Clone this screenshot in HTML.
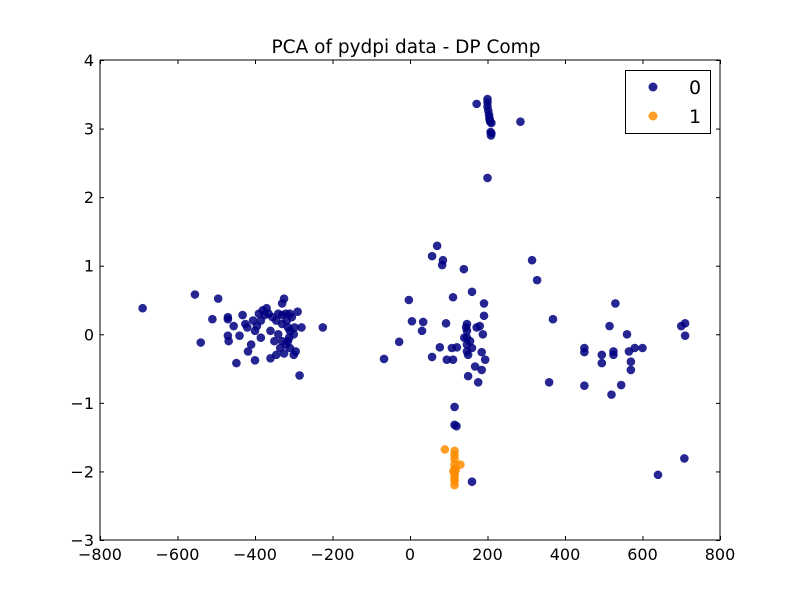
<!DOCTYPE html>
<html><head><meta charset="utf-8"><style>body{margin:0;background:#fff}svg{display:block;font-family:"DejaVu Sans","Liberation Sans",sans-serif}</style></head>
<body>
<svg id="chart" width="800" height="600" viewBox="0 0 800 600">
<rect width="800" height="600" fill="#fff"/>
<text x="406" y="53" text-anchor="middle" font-size="18.5">PCA of pydpi data - DP Comp</text>
<g id="ticks"></g>
<g id="points"></g>
<rect x="100" y="60" width="620" height="480" fill="none" stroke="#000" stroke-width="1"/>
<g>
<rect x="625.5" y="70.5" width="85" height="63" fill="#fff" stroke="#000"/>
<circle cx="653" cy="87" r="4.5" fill="#000080" fill-opacity="0.85"/>
<text x="689" y="94" font-size="19">0</text>
<circle cx="653" cy="116" r="4.5" fill="#ff8c00" fill-opacity="0.85"/>
<text x="689" y="123" font-size="19">1</text>
</g>
</svg>
<script>
const xTicks=[-800,-600,-400,-200,0,200,400,600,800];
const yTicks=[-3,-2,-1,0,1,2,3,4];
const class0X=[-690,-555,-540,-510,-495,-470,-470,-470,-468,-455,-448,-440,-432,-425,-420,-418,-410,-405,-400,-400,-395,-390,-385,-380,-370,-365,-360,-360,-355,-350,-345,-340,-335,-330,-325,-320,-318,-315,-312,-320,-310,-305,-300,-300,-298,-295,-290,-285,-280,-225,-340,-330,-330,-325,-315,-345,-375,-385,-310,-330,-310,
70,57,85,83,139,315,328,160,111,191,-3,191,369,5,34,31,93,-28,-67,57,77,108,121,95,111,147,147,147,147,147,150,145,172,188,185,194,168,185,150,176,359,140,155,160,180,
200,200,200,202,204,205,206,207,208,209,210,210,172,285,200,
115,115,120,160,
450,450,450,495,495,515,520,525,525,530,545,560,565,570,570,580,600,640,700,710,710,708];
const class0Y=[0.38,0.58,-0.12,0.22,0.52,0.22,0.25,-0.02,-0.1,0.12,-0.42,-0.02,0.28,0.15,0.1,-0.25,-0.15,0.2,0.05,-0.38,0.12,0.3,-0.05,0.35,0.38,0.3,0.05,-0.35,0.25,-0.1,-0.3,0.3,-0.2,0.45,0.52,0.3,0.2,0.1,-0.05,-0.15,-0.2,0.25,-0.3,0,0.1,-0.25,0.33,-0.6,0.1,0.1,0,0.15,-0.1,-0.28,-0.1,0.2,0.28,0.2,0.05,0.28,0.3,
1.29,1.14,1.08,1.01,0.95,1.08,0.79,0.62,0.54,0.45,0.5,0.27,0.22,0.19,0.18,0.05,0.16,-0.11,-0.36,-0.33,-0.19,-0.2,-0.19,-0.37,-0.37,0.15,0.05,-0.05,-0.15,-0.25,-0.3,0.1,0.1,0,-0.26,-0.37,-0.47,-0.52,-0.61,-0.7,-0.7,-0.05,-0.1,-0.2,0.12,
3.43,3.38,3.32,3.26,3.2,3.15,3.12,3.1,2.95,2.9,2.93,3.08,3.36,3.1,2.28,
-1.06,-1.32,-1.34,-2.15,
-0.2,-0.26,-0.75,-0.3,-0.42,0.12,-0.88,-0.25,-0.3,0.45,-0.74,0,-0.25,-0.4,-0.52,-0.2,-0.2,-2.05,0.12,0.16,-0.02,-1.81];
const class1X=[90,115,115,115,115,115,115,115,115,115,115,118,112,130];
const class1Y=[-1.68,-1.7,-1.76,-1.82,-1.9,-1.96,-2.02,-2.06,-2.1,-2.14,-2.2,-1.98,-2.0,-1.9];
const NS='http://www.w3.org/2000/svg';
function sx(v){return 100+(v+800)/1600*620;}
function sy(v){return 540-(v+3)/7*480;}
const tg=document.getElementById('ticks');
xTicks.forEach(t=>{
  const x=sx(t)+0.5;
  [[540,536],[60,64]].forEach(p=>{const l=document.createElementNS(NS,'line');
  
  
  l.setAttribute('x1',x);l.setAttribute('x2',x);l.setAttribute('y1',p[0]);l.setAttribute('y2',p[1]);l.setAttribute('stroke','#000');tg.appendChild(l);});
  const tx=document.createElementNS(NS,'text');
  
  
  tx.setAttribute('x',sx(t));tx.setAttribute('y',560);tx.setAttribute('text-anchor','middle');tx.setAttribute('font-size','16');
  tx.textContent=(t<0?'\u2212'+(-t):t);tg.appendChild(tx);
});
yTicks.forEach(t=>{
  const y=sy(t)+0.5;
  [[100,104],[720,716]].forEach(p=>{const l=document.createElementNS(NS,'line');
  
  
  l.setAttribute('x1',p[0]);l.setAttribute('x2',p[1]);l.setAttribute('y1',y);l.setAttribute('y2',y);l.setAttribute('stroke','#000');tg.appendChild(l);});
  const tx=document.createElementNS(NS,'text');
  
  
  tx.setAttribute('x',94);tx.setAttribute('y',sy(t)+6);tx.setAttribute('text-anchor','end');tx.setAttribute('font-size','16');
  tx.textContent=(t<0?'\u2212'+(-t):t);tg.appendChild(tx);
});
const pg=document.getElementById('points');
function draw(xs,ys,color,name){xs.forEach((v,i)=>{const c=document.createElementNS(NS,'circle');
  
  
  c.setAttribute('cx',sx(v));c.setAttribute('cy',sy(ys[i]));c.setAttribute('r',4.3);c.setAttribute('fill',color);c.setAttribute('fill-opacity','0.85');pg.appendChild(c);});}
draw(class0X,class0Y,'#000080','point-class-0');
draw(class1X,class1Y,'#ff8c00','point-class-1');
</script>
</body></html>
